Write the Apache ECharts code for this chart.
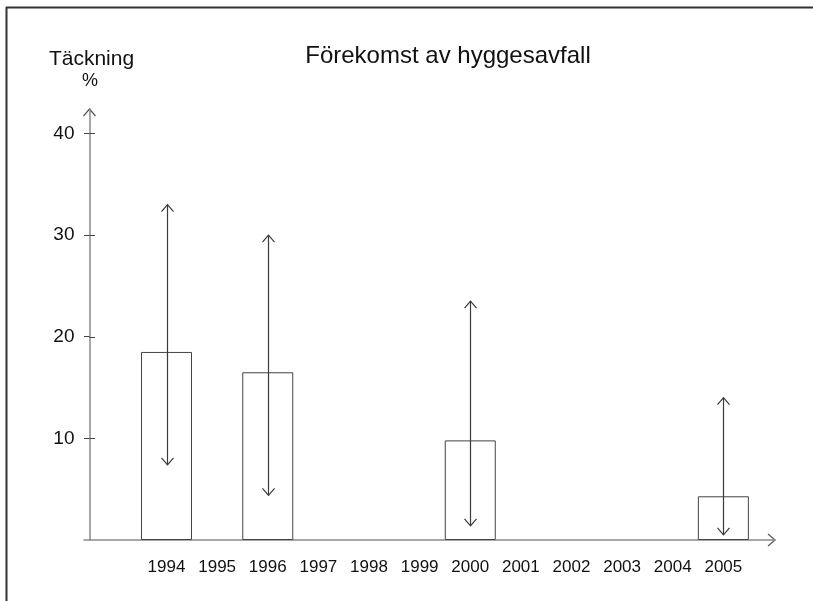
<!DOCTYPE html>
<html>
<head>
<meta charset="utf-8">
<style>
  html, body { margin: 0; padding: 0; background: #fff; }
  #chart { width: 813px; height: 601px; }
</style>
<script src="https://cdn.jsdelivr.net/npm/echarts@6/dist/echarts.min.js"></script>
</head>
<body>
<div id="chart"></div>
<script>
// ---- data ----
const years = [1994, 1995, 1996, 1997, 1998, 1999, 2000, 2001, 2002, 2003, 2004, 2005];
const barYears = [1994, 1996, 2000, 2005];
const coverage = [18.5, 16.5, 9.8, 4.3];
const lowerLimit = [7.4, 4.4, 1.4, 0.5];
const upperLimit = [33.0, 30.0, 23.5, 14.0];
const yTickValues = [10, 20, 30, 40];

const titleText = 'Förekomst av hyggesavfall';
const yName1 = 'Täckning';
const yName2 = '%';

// ---- layout ----
const FONT = '"Liberation Sans", Arial, Helvetica, sans-serif';
const GRID_LEFT = 84, GRID_RIGHT = 38, GRID_TOP = 109, GRID_BOTTOM = 61;
const Y_OFFSET = -5.5;
const X_MIN = 1992.37, X_MAX = 2006.02;
const Y_MIN = 0, Y_MAX = 42.4;
const AXIS_COLOR = '#8a8a8a';
const INK = '#3a3a3a';
const TEXT = '#111111';

const chart = echarts.init(document.getElementById('chart'), null, { renderer: 'canvas' });

const barData = barYears.map((y, i) => [y, coverage[i]]);
const arrowData = barYears.map((y, i) => [y, lowerLimit[i], upperLimit[i]]);
const tickData = yTickValues.map(v => [X_MIN, v]);

function vArrowHead(x, y, dir) {
  const h = 7, w = 6;
  return {
    type: 'polyline',
    shape: { points: [[x - w, y - dir * h], [x, y], [x + w, y - dir * h]] },
    style: { stroke: INK, lineWidth: 1.2, fill: null }
  };
}

chart.setOption({
  animation: false,
  backgroundColor: '#ffffff',
  grid: { left: GRID_LEFT, right: GRID_RIGHT, top: GRID_TOP, bottom: GRID_BOTTOM, containLabel: false },
  xAxis: {
    type: 'value',
    min: X_MIN,
    max: X_MAX,
    axisLine: { show: true, onZero: false, lineStyle: { color: AXIS_COLOR, width: 1.5 } },
    axisTick: { show: false },
    splitLine: { show: false },
    axisLabel: {
      customValues: years,
      formatter: v => String(v),
      color: TEXT,
      fontFamily: FONT,
      fontSize: 17,
      margin: 19
    }
  },
  yAxis: {
    type: 'value',
    position: 'left',
    offset: Y_OFFSET,
    min: Y_MIN,
    max: Y_MAX,
    axisLine: { show: true, onZero: false, lineStyle: { color: AXIS_COLOR, width: 1.5 } },
    axisTick: { show: true, inside: false, length: 5.5, customValues: yTickValues, lineStyle: { color: '#444', width: 1 } },
    splitLine: { show: false },
    axisLabel: {
      customValues: yTickValues,
      color: TEXT,
      fontFamily: FONT,
      fontSize: 19,
      margin: 15
    }
  },
  series: [
    {
      type: 'bar',
      data: barData,
      barWidth: 51,
      itemStyle: { color: 'rgba(255,255,255,0)', borderColor: '#444', borderWidth: 1 },
      z: 3
    },
    {
      type: 'custom',
      data: arrowData,
      z: 4,
      renderItem: function (params, api) {
        const x = api.value(0), lo = api.value(1), hi = api.value(2);
        const pLo = api.coord([x, lo]);
        const pHi = api.coord([x, hi]);
        const cx = Math.round(pLo[0]) + 0.5;
        return {
          type: 'group',
          children: [
            { type: 'line', shape: { x1: cx, y1: pLo[1], x2: cx, y2: pHi[1] }, style: { stroke: INK, lineWidth: 1.2 } },
            vArrowHead(cx, pHi[1], -1),
            vArrowHead(cx, pLo[1], 1)
          ]
        };
      }
    },
    {
      // right halves of the crossing y-axis ticks
      type: 'custom',
      data: tickData,
      z: 5,
      clip: false,
      renderItem: function (params, api) {
        const p = api.coord([api.value(0), api.value(1)]);
        const py = Math.round(p[1]) + 0.5;
        const ax = GRID_LEFT - Y_OFFSET;
        return { type: 'line', shape: { x1: ax, y1: py, x2: ax + 5.5, y2: py }, style: { stroke: '#444', lineWidth: 1 } };
      }
    }
  ]
});

const yTopPx = chart.convertToPixel({ yAxisIndex: 0 }, Y_MAX);
const yZeroPx = chart.convertToPixel({ yAxisIndex: 0 }, Y_MIN);
const xRightPx = chart.convertToPixel({ xAxisIndex: 0 }, X_MAX);
const yAxisX = GRID_LEFT - Y_OFFSET;

chart.setOption({
  graphic: [
    { type: 'line', shape: { x1: 6, y1: 7.5, x2: 813, y2: 7.5 }, style: { stroke: '#333', lineWidth: 2 } },
    { type: 'line', shape: { x1: 6.5, y1: 7, x2: 6.5, y2: 601 }, style: { stroke: '#333', lineWidth: 2 } },
    { type: 'polyline', shape: { points: [[yAxisX - 6, yTopPx + 7], [yAxisX, yTopPx], [yAxisX + 6, yTopPx + 7]] },
      style: { stroke: '#555', lineWidth: 1.2, fill: null } },
    { type: 'polyline', shape: { points: [[xRightPx - 7, yZeroPx - 6], [xRightPx, yZeroPx], [xRightPx - 7, yZeroPx + 6]] },
      style: { stroke: '#555', lineWidth: 1.2, fill: null } },
    { type: 'text', x: 448, y: 56, style: { text: titleText, fontFamily: FONT, fontSize: 24, fill: TEXT, textAlign: 'center', textVerticalAlign: 'middle' } },
    { type: 'text', x: 91.5, y: 59, style: { text: yName1, fontFamily: FONT, fontSize: 21, fill: TEXT, textAlign: 'center', textVerticalAlign: 'middle' } },
    { type: 'text', x: 90, y: 81, style: { text: yName2, fontFamily: FONT, fontSize: 18, fill: TEXT, textAlign: 'center', textVerticalAlign: 'middle' } }
  ]
});
</script>
</body>
</html>
